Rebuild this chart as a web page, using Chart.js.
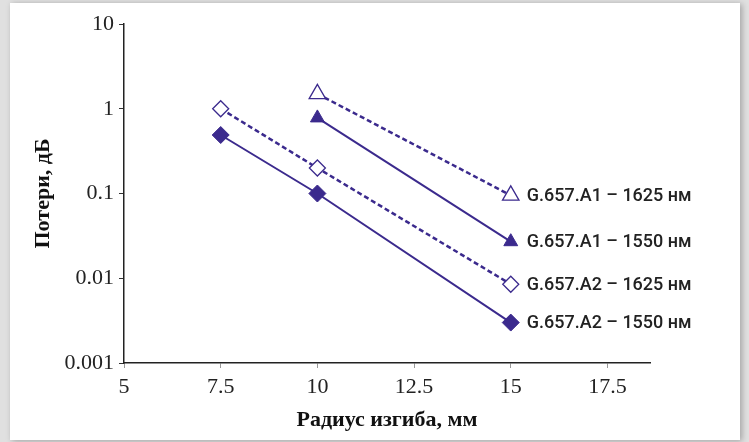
<!DOCTYPE html>
<html>
<head>
<meta charset="utf-8">
<script src="https://cdn.jsdelivr.net/npm/chart.js@4"></script>
<style>
	html, body { margin: 0; padding: 0; background: #e0e0e0; width: 749px; height: 442px; overflow: hidden; }
	#card { position: absolute; left: 10px; top: 3px; width: 730px; height: 437px; background: #fff; box-shadow: 2px 1px 6px rgba(0,0,0,0.28); }
	#wrap { position: absolute; left: 0; top: 0; width: 749px; height: 442px; }
</style>
</head>
<body>
<div id="card"></div>
<div id="wrap"><canvas id="chart"></canvas></div>
<script>
// ── Data ────────────────────────────────────────────────────────────────────

const xTicks = [5, 7.5, 10, 12.5, 15, 17.5]
const yTicks = [0.001, 0.01, 0.1, 1, 10]

const seriesNames = ['G.657.A1 – 1625 нм', 'G.657.A1 – 1550 нм', 'G.657.A2 – 1625 нм', 'G.657.A2 – 1550 нм']

const a1_1625_x = [10, 15]
const a1_1625_y = [1.5, 0.095]
const a1_1550_x = [10, 15]
const a1_1550_y = [0.78, 0.027]
const a2_1625_x = [7.5, 10, 15]
const a2_1625_y = [1.0, 0.2, 0.0085]
const a2_1550_x = [7.5, 10, 15]
const a2_1550_y = [0.49, 0.1, 0.003]

// ── Chart ───────────────────────────────────────────────────────────────────

const PURPLE = '#3b2a8d'
const pts = (xs, ys) => xs.map((x, i) => ({ x: x, y: ys[i] }))

const endLabels = {
	id: 'endLabels',
	afterDatasetsDraw(chart) {
		const c = chart.ctx
		c.save()
		c.font = '500 18px Roboto'
		c.fillStyle = '#222'
		c.textBaseline = 'middle'
		chart.data.datasets.forEach((ds, i) => {
			const meta = chart.getDatasetMeta(i)
			const last = meta.data[meta.data.length - 1]
			c.fillText(seriesNames[i], last.x + 16, last.y + 1)
		})
		c.restore()
	},
}

new Chart(document.getElementById('chart'), {
	type: 'scatter',
	data: {
		datasets: [
			{
				data: pts(a1_1625_x, a1_1625_y),
				showLine: true,
				borderColor: PURPLE,
				borderWidth: 2.5,
				borderDash: [5, 3],
				pointStyle: 'triangle',
				pointRadius: 9.5,
				pointBackgroundColor: '#fff',
				pointBorderColor: PURPLE,
				pointBorderWidth: 1.3,
			},
			{
				data: pts(a1_1550_x, a1_1550_y),
				showLine: true,
				borderColor: PURPLE,
				borderWidth: 2,
				pointStyle: 'triangle',
				pointRadius: 8,
				pointBackgroundColor: PURPLE,
				pointBorderColor: PURPLE,
				pointBorderWidth: 1,
			},
			{
				data: pts(a2_1625_x, a2_1625_y),
				showLine: true,
				borderColor: PURPLE,
				borderWidth: 2.5,
				borderDash: [5, 3],
				pointStyle: 'rectRot',
				pointRadius: 8,
				pointBackgroundColor: '#fff',
				pointBorderColor: PURPLE,
				pointBorderWidth: 1.3,
			},
			{
				data: pts(a2_1550_x, a2_1550_y),
				showLine: true,
				borderColor: PURPLE,
				borderWidth: 2,
				pointStyle: 'rectRot',
				pointRadius: 8.5,
				pointBackgroundColor: PURPLE,
				pointBorderColor: PURPLE,
				pointBorderWidth: 1,
			},
		],
	},
	options: {
		responsive: true,
		maintainAspectRatio: false,
		animation: false,
		layout: { padding: { top: 24, right: 99, left: 26, bottom: 0 } },
		scales: {
			x: {
				type: 'linear',
				min: 5,
				max: 18.6,
				afterBuildTicks: s => { s.ticks = xTicks.map(v => ({ value: v })) },
				afterFit: s => { s.height = 79 },
				border: { color: '#222', width: 1.5 },
				grid: { drawOnChartArea: false, tickLength: 5, color: '#999' },
				ticks: { color: '#222', font: { family: 'Liberation Serif', size: 22 }, padding: 6 },
				title: { display: true, text: 'Радиус изгиба, мм', color: '#111', font: { family: 'Liberation Serif', size: 22, weight: 'bold' }, padding: { top: 4, bottom: 8 } },
			},
			y: {
				type: 'logarithmic',
				min: 0.001,
				max: 10,
				afterBuildTicks: s => { s.ticks = yTicks.map(v => ({ value: v })) },
				afterFit: s => { s.width = 98 },
				border: { color: '#222', width: 1.5 },
				grid: { drawOnChartArea: false, tickLength: 5, color: '#333' },
				ticks: { color: '#222', font: { family: 'Liberation Serif', size: 22 }, padding: 5, callback: v => String(v) },
				title: { display: true, text: 'Потери, дБ', color: '#111', font: { family: 'Liberation Serif', size: 22, weight: 'bold' }, padding: { top: 4, bottom: 4 } },
			},
		},
		plugins: {
			legend: { display: false },
			tooltip: { enabled: false },
		},
	},
	plugins: [endLabels],
})
</script>
</body>
</html>
